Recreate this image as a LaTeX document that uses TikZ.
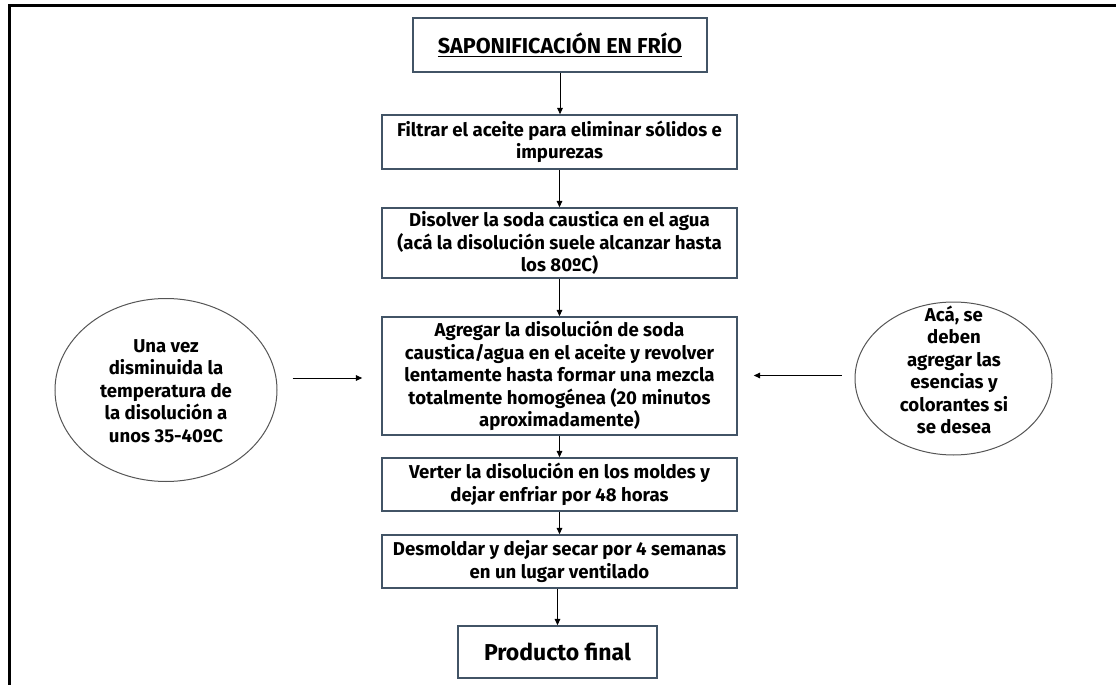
\documentclass[tikz,border=0pt]{standalone}
\usepackage{fontspec}
\setmainfont{Fira Sans}
\usetikzlibrary{arrows.meta,shapes.geometric}
\definecolor{boxc}{RGB}{66,84,102}
\definecolor{ellc}{RGB}{85,85,85}
\begin{document}
\begin{tikzpicture}[x=0.5pt,y=-0.5pt,
  txt/.style={font=\bfseries\fontsize{9.3}{11.25}\selectfont, align=center},
  box/.style={txt, draw=boxc, line width=0.75pt, fill=white, inner sep=0pt, minimum width=177.5pt},
  ell/.style={draw=ellc, line width=0.5pt, ellipse, inner sep=0pt},
  arr/.style={draw=black, line width=0.5pt, -{Triangle[length=3.2pt,width=2.8pt]}}]
\useasboundingbox (0,0) rectangle (1116,685);
\draw[line width=1.5pt] (9,685) -- (9,5) -- (1116,5);

\node[box, minimum width=147pt, minimum height=27pt, font=\bfseries\fontsize{10.8}{13}\selectfont] (t) at (560,45) {\underline{SAPONIFICACIÓN EN FRÍO}};
\node[box, minimum height=27pt] (b1) at (559.5,142) {Filtrar el aceite para eliminar sólidos e\\impurezas};
\node[box, minimum height=35pt] (b2) at (559.5,243) {Disolver la soda caustica en el agua\\(acá la disolución suele alcanzar hasta\\los 80ºC)};
\node[box, minimum height=59pt] (b3) at (559.5,376) {Agregar la disolución de soda\\caustica/agua en el aceite y revolver\\lentamente hasta formar una mezcla\\totalmente homogénea (20 minutos\\aproximadamente)};
\node[box, minimum height=26.5pt] (b4) at (559.5,484.5) {Verter la disolución en los moldes y\\dejar enfriar por 48 horas};
\node[box, minimum height=26.5pt] (b5) at (559.5,561.5) {Desmoldar y dejar secar por 4 semanas\\en un lugar ventilado};
\node[box, minimum width=99.5pt, minimum height=26pt, font=\bfseries\fontsize{11.5}{13}\selectfont] (b6) at (557.5,652) {Producto final};

\node[ell, minimum width=111pt, minimum height=91.5pt] (L) at (166,390) {};
\node[txt] (Lt) at (166,391) {Una vez\\disminuida la\\temperatura de\\la disolución a\\unos 35-40ºC};
\node[ell, minimum width=98.5pt, minimum height=76.5pt] (R) at (953.5,378.5) {};
\node[txt] (Rt) at (954,370) {Acá, se\\deben\\agregar las\\esencias y\\colorantes si\\se desea};

\draw[arr] (t.south) -- (t.south |- b1.north);
\draw[arr] (b1) -- (b2);
\draw[arr] (b2) -- (b3);
\draw[arr] (b3) -- (b4);
\draw[arr] (b4) -- (b5);
\draw[arr] (b6.north |- b5.south) -- (b6.north);
\draw[arr, shorten <=7.5pt, shorten >=9.5pt] ([yshift=6pt]L.east) -- ([yshift=6pt]L.east -| b3.west);
\draw[arr, shorten <=6.5pt, shorten >=8pt] ([yshift=1.5pt]R.west) -- ([yshift=1.5pt]R.west -| b3.east);
\end{tikzpicture}
\end{document}
